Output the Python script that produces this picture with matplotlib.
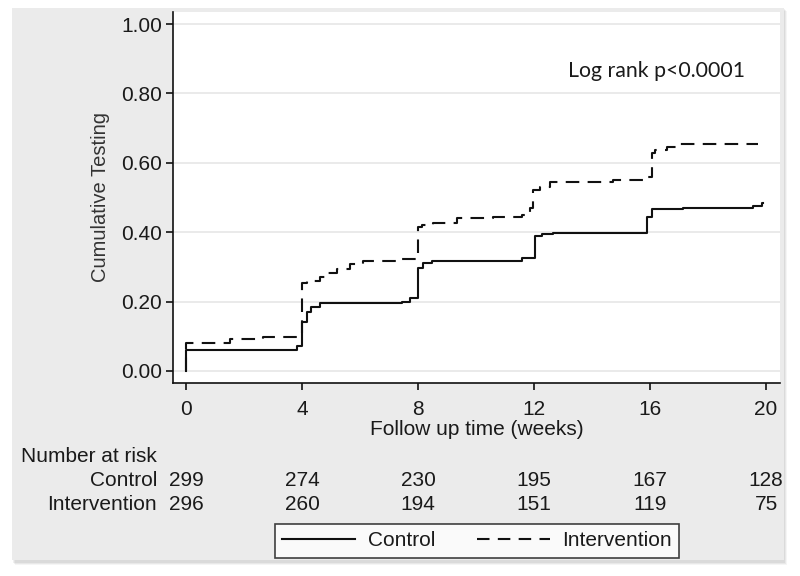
import matplotlib
matplotlib.use("Agg")
import matplotlib.pyplot as plt
from matplotlib.patches import Rectangle
from matplotlib.lines import Line2D

# courbes cumulatives
ctrl_t = [0, 0, 3.83, 4.0, 4.16, 4.3, 4.62, 7.44, 7.72, 8.0, 8.17, 8.47, 11.57,
          12.03, 12.26, 12.66, 15.88, 16.06, 17.14, 19.55, 19.85, 19.9]
ctrl_y = [0, 0.06, 0.072, 0.142, 0.171, 0.184, 0.197, 0.200, 0.211, 0.298, 0.311,
          0.317, 0.327, 0.389, 0.394, 0.397, 0.445, 0.467, 0.470, 0.476, 0.485, 0.485]

int_t = [0, 0, 1.52, 2.66, 3.93, 4.01, 4.16, 4.62, 4.85, 5.2, 5.66, 6.1, 7.38,
         8.01, 8.13, 8.52, 9.33, 10.6, 11.6, 11.86, 11.98, 12.2, 12.55, 14.73,
         15.88, 16.06, 16.17, 16.57, 17.0, 19.73]
int_y = [0, 0.082, 0.091, 0.097, 0.110, 0.253, 0.259, 0.272, 0.282, 0.293, 0.307,
         0.317, 0.323, 0.416, 0.421, 0.427, 0.440, 0.445, 0.450, 0.469, 0.522,
         0.531, 0.546, 0.550, 0.560, 0.627, 0.637, 0.646, 0.653, 0.653]

# nombre à risque
risk_times = [0, 4, 8, 12, 16, 20]
risk_control = [299, 274, 230, 195, 167, 128]
risk_intervention = [296, 260, 194, 151, 119, 75]

x_ticks = [0, 4, 8, 12, 16, 20]
y_ticks = [0.0, 0.2, 0.4, 0.6, 0.8, 1.0]

plt.rcParams['font.family'] = ['Liberation Sans', 'DejaVu Sans']
txt = '#1a1a1a'

W, H = 800, 576
fig = plt.figure(figsize=(8, 5.76), dpi=100, facecolor='white')


def py(p):
    # pixel depuis le haut -> fraction de figure
    return (H - p) / H


# panneau gris avec ombre
for i, a in enumerate([0.04, 0.05, 0.06]):
    off = 3 - i
    fig.patches.append(Rectangle(((12 + off) / W, py(562 + off)),
                                 772 / W, 554 / H,
                                 transform=fig.transFigure, facecolor='black',
                                 alpha=a, edgecolor='none', zorder=-3))
fig.patches.append(Rectangle((12 / W, py(560)), 772 / W, 552 / H,
                             transform=fig.transFigure, facecolor='#ebebeb',
                             edgecolor='none', zorder=-2))

ax = fig.add_axes([173 / W, py(383), (780 - 173) / W, (383 - 12) / H])
ax.set_facecolor('white')

ax.plot(ctrl_t, ctrl_y, drawstyle='steps-post', color='#111111', lw=1.5,
        label='Control')
ax.plot(int_t, int_y, drawstyle='steps-post', color='#111111', lw=1.5,
        dashes=(6.5, 4), label='Intervention')

ax.set_xlim(-0.448, 20.48)
ax.set_ylim(-0.0346, 1.0346)
ax.set_xticks(x_ticks)
ax.set_yticks(y_ticks)
ax.set_yticklabels([f"{v:.2f}" for v in y_ticks])
ax.grid(axis='y', color='#e6e6e6', lw=1.2)
ax.set_axisbelow(True)

for s in ['top', 'right']:
    ax.spines[s].set_visible(False)
for s in ['left', 'bottom']:
    ax.spines[s].set_linewidth(1.2)
    ax.spines[s].set_color('#111111')
ax.tick_params(direction='out', length=5, width=1.2, colors='#111111',
               labelsize=15, labelcolor=txt)
ax.tick_params(axis='x', pad=7)
ax.tick_params(axis='y', pad=3)

ax.set_ylabel("Cumulative Testing", fontsize=14.5, color='#333333', labelpad=8)
ax.set_xlabel("Follow up time (weeks)", fontsize=15, color=txt, labelpad=1)

fig.text(657 / W, py(71), "Log rank p<0.0001", fontsize=15.3,
         family=['Lato', 'DejaVu Sans'], color=txt, ha='center', va='center')

# table du nombre à risque
fig.text(21 / W, py(457), "Number at risk", fontsize=15, color=txt,
         ha='left', va='center')
fig.text(157 / W, py(480), "Control", fontsize=15, color=txt,
         ha='right', va='center')
fig.text(157 / W, py(504), "Intervention", fontsize=15, color=txt,
         ha='right', va='center')

tr = ax.get_xaxis_transform()
for t, c, n in zip(risk_times, risk_control, risk_intervention):
    ax.text(t, (383 - 480) / 371, str(c), transform=tr, fontsize=15, color=txt,
            ha='center', va='center', clip_on=False)
    ax.text(t, (383 - 504) / 371, str(n), transform=tr, fontsize=15, color=txt,
            ha='center', va='center', clip_on=False)

handles = [Line2D([], [], color='#111111', lw=1.5),
           Line2D([], [], color='#111111', lw=1.5, dashes=(6, 4))]
leg = fig.legend(handles, ['Control', 'Intervention'], loc='center',
                 bbox_to_anchor=(477 / W, py(541)), ncol=2, fontsize=15,
                 frameon=True, fancybox=False, edgecolor='#111111',
                 handlelength=3.5, columnspacing=2.0, handletextpad=0.6,
                 borderpad=0.35, labelcolor=txt)
leg.get_frame().set_linewidth(1.2)
leg.get_frame().set_facecolor('white')

fig.savefig("out.png", dpi=100)
